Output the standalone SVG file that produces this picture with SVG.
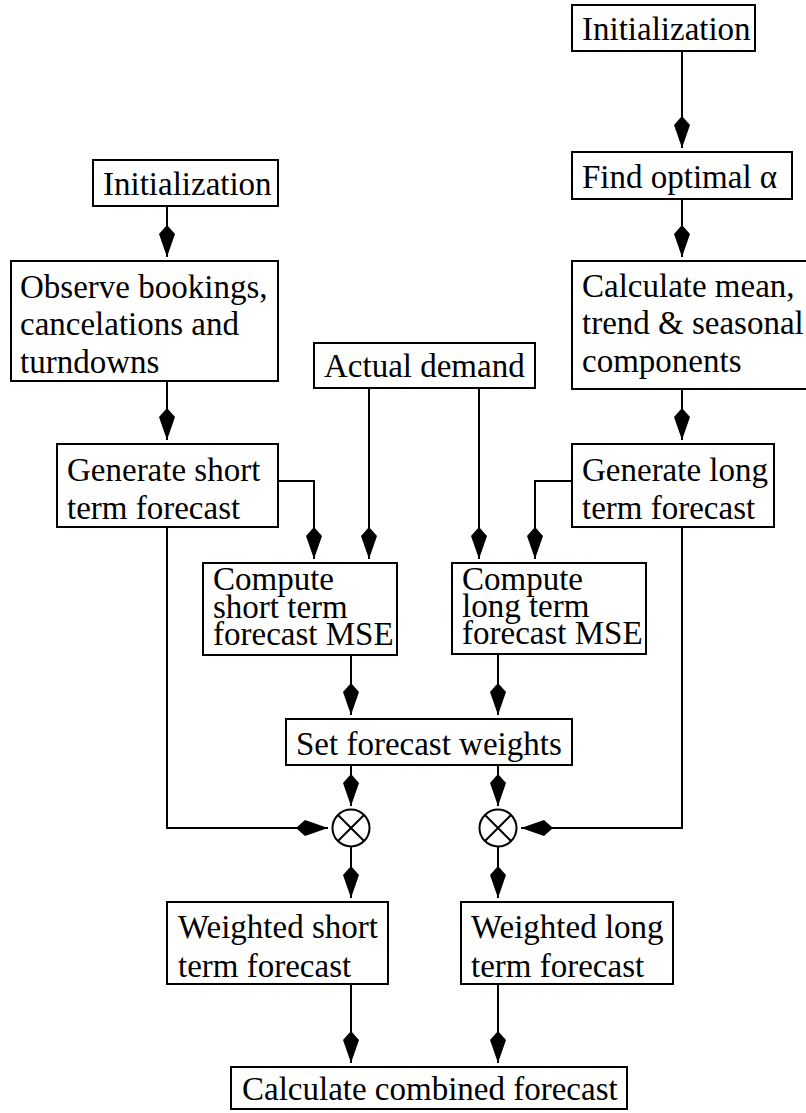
<svg xmlns="http://www.w3.org/2000/svg" width="806" height="1113" viewBox="0 0 806 1113">
<style>
.box{fill:#fff;stroke:#000;stroke-width:2}
.t{font-family:"Liberation Serif","Times New Roman",serif;font-size:33px;fill:#000}
.c{fill:none;stroke:#000;stroke-width:2;marker-end:url(#ah)}
.x{fill:none;stroke:#000;stroke-width:2}
</style>
<defs>
<marker id="ah" markerUnits="userSpaceOnUse" markerWidth="34" markerHeight="18" viewBox="-33 -9 34 18" refX="0" refY="0" orient="auto" overflow="visible">
<path d="M-32,0 L-23,-8 L0,0 L-23,8 Z" fill="#000"/>
</marker>
</defs>
<rect width="806" height="1113" fill="#fff"/>
<g id="connectors">
<path class="c" d="M682,51 V148"/>
<path class="c" d="M682,199 V257"/>
<path class="c" d="M682,389 V440"/>
<path class="c" d="M167,206 V257"/>
<path class="c" d="M167,381 V440"/>
<path class="c" d="M278,481 H314 V559"/>
<path class="c" d="M369,388 V559"/>
<path class="c" d="M479,388 V559"/>
<path class="c" d="M572,481 H535 V559"/>
<path class="c" d="M351,655 V715"/>
<path class="c" d="M498,654 V715"/>
<path class="c" d="M351,765 V806"/>
<path class="c" d="M498,765 V806"/>
<path class="c" d="M167,527 V828 H328"/>
<path class="c" d="M682,527 V828 H521"/>
<path class="c" d="M351,847 V898"/>
<path class="c" d="M498,847 V898"/>
<path class="c" d="M351,984 V1063"/>
<path class="c" d="M498,984 V1063"/>
</g>
<g id="init-right">
<rect class="box" x="572" y="5" width="183" height="46"/>
<text class="t" x="582" y="40">Initialization</text>
</g>
<g id="find-alpha">
<rect class="box" x="572" y="152" width="220" height="47"/>
<text class="t" x="582" y="188">Find optimal α</text>
</g>
<g id="calc-mean">
<rect class="box" x="572" y="261" width="244" height="128"/>
<text class="t" x="582" y="297">Calculate mean,</text>
<text class="t" x="582" y="334">trend &amp; seasonal</text>
<text class="t" x="582" y="372">components</text>
</g>
<g id="gen-long">
<rect class="box" x="572" y="444" width="202" height="83"/>
<text class="t" x="582" y="481">Generate long</text>
<text class="t" x="582" y="519">term forecast</text>
</g>
<g id="init-left">
<rect class="box" x="93" y="160" width="185" height="46"/>
<text class="t" x="103" y="195">Initialization</text>
</g>
<g id="observe">
<rect class="box" x="11" y="261" width="267" height="120"/>
<text class="t" x="20" y="298">Observe bookings,</text>
<text class="t" x="20" y="335">cancelations and</text>
<text class="t" x="20" y="373">turndowns</text>
</g>
<g id="gen-short">
<rect class="box" x="57" y="444" width="221" height="83"/>
<text class="t" x="67" y="481">Generate short</text>
<text class="t" x="67" y="519">term forecast</text>
</g>
<g id="actual-demand">
<rect class="box" x="314" y="343" width="221" height="45"/>
<text class="t" x="324" y="377">Actual demand</text>
</g>
<g id="mse-short">
<rect class="box" x="203" y="563" width="194" height="92"/>
<text class="t" x="213" y="590">Compute</text>
<text class="t" x="213" y="618">short term</text>
<text class="t" x="213" y="645">forecast MSE</text>
</g>
<g id="mse-long">
<rect class="box" x="452" y="563" width="194" height="91"/>
<text class="t" x="462" y="590">Compute</text>
<text class="t" x="462" y="617">long term</text>
<text class="t" x="462" y="644">forecast MSE</text>
</g>
<g id="weights">
<rect class="box" x="286" y="719" width="286" height="46"/>
<text class="t" x="296" y="755">Set forecast weights</text>
</g>
<g id="mult-short">
<circle class="x" cx="351" cy="828" r="18.5"/>
<path class="x" d="M338,815 L364,841 M364,815 L338,841"/>
</g>
<g id="mult-long">
<circle class="x" cx="498" cy="828" r="18.5"/>
<path class="x" d="M485,815 L511,841 M511,815 L485,841"/>
</g>
<g id="w-short">
<rect class="box" x="167" y="902" width="221" height="82"/>
<text class="t" x="178" y="938">Weighted short</text>
<text class="t" x="178" y="977">term forecast</text>
</g>
<g id="w-long">
<rect class="box" x="461" y="902" width="212" height="82"/>
<text class="t" x="471" y="938">Weighted long</text>
<text class="t" x="471" y="977">term forecast</text>
</g>
<g id="combined">
<rect class="box" x="231" y="1067" width="396" height="42"/>
<text class="t" x="242" y="1100">Calculate combined forecast</text>
</g>
</svg>
